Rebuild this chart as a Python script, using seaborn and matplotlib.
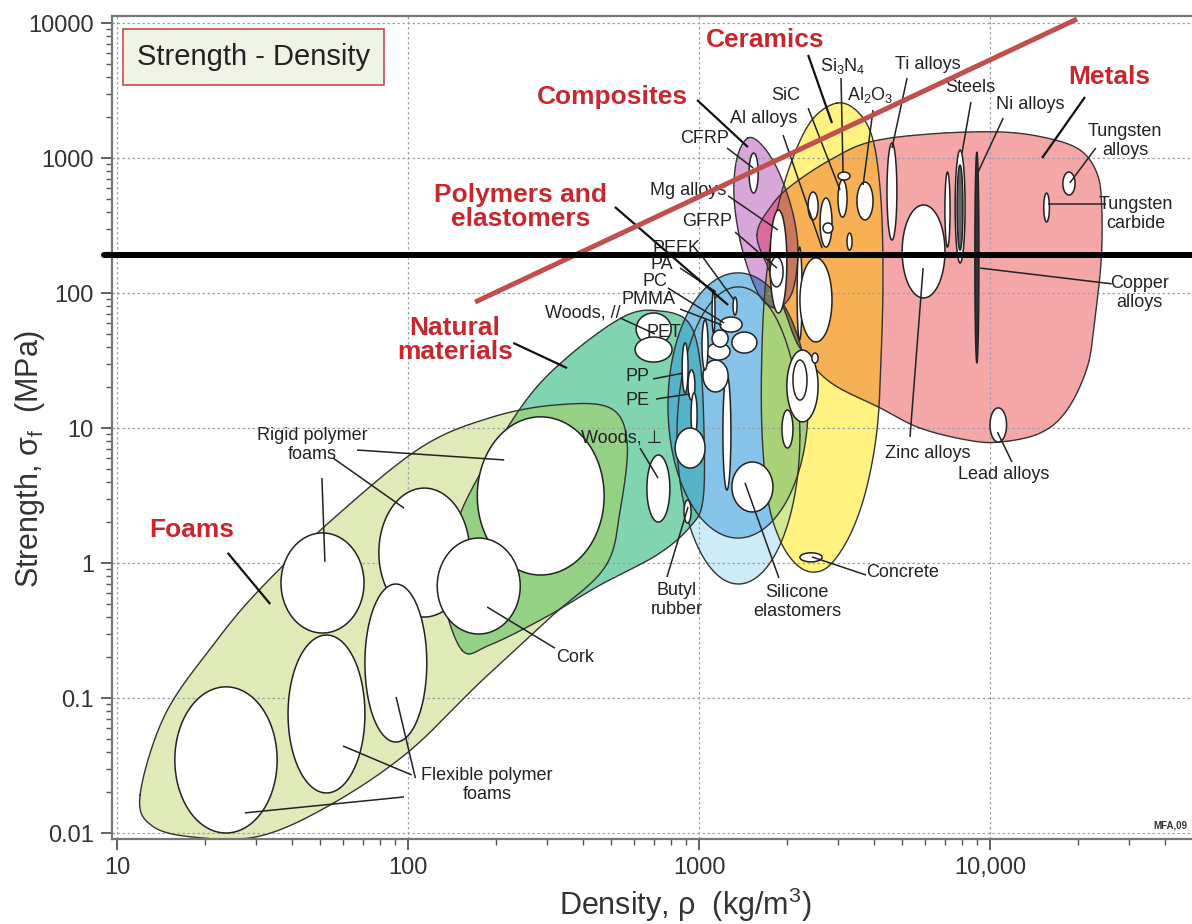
import numpy as np
import matplotlib
matplotlib.use("Agg")
import matplotlib.pyplot as plt
import seaborn as sns
from matplotlib.path import Path
from matplotlib.ticker import FixedLocator, FixedFormatter, NullFormatter, LogLocator

sns.set_theme(style="white")
plt.rcParams["font.family"] = ["Liberation Sans", "DejaVu Sans"]
plt.rcParams["mathtext.fontset"] = "custom"
plt.rcParams["mathtext.rm"] = "Liberation Sans"
plt.rcParams["mathtext.it"] = "Liberation Sans:italic"
plt.rcParams["mathtext.bf"] = "Liberation Sans:bold"

# ---------------- data ----------------
x_limits = [9.61, 50000]
y_limits = [0.00903, 11270]
xtick_vals = [10, 100, 1000, 10000]
xtick_text = ["10", "100", "1000", "10,000"]
ytick_vals = [0.01, 0.1, 1, 10, 100, 1000, 10000]
ytick_text = ["0.01", "0.1", "1", "10", "100", "1000", "10000"]

# family envelopes: boundary points (density kg/m3, strength MPa)
foams_rho = [12.0, 14.6, 21.4, 31.0, 55.2, 110, 191, 320, 494, 566, 536, 475, 307, 177, 99.3, 53.9, 31.0, 18.5, 13.2]
foams_sig = [0.0191, 0.0748, 0.247, 0.641, 2.12, 7.11, 11.9, 14.8, 14.1, 7.87, 2.47, 0.933, 0.392, 0.131, 0.0392, 0.0161, 0.0095, 0.0093, 0.0113]
natural_rho = [153, 132, 145, 170, 252, 360, 557, 735, 917, 1007, 1040, 1032, 931, 718, 457, 298, 191]
natural_sig = [0.227, 0.631, 1.75, 3.92, 15.6, 34.7, 67.6, 73.6, 61.0, 31.9, 9.67, 2.93, 1.85, 1.15, 0.687, 0.398, 0.247]
composites_rho = [1472, 1645, 1866, 2088, 2188, 2103, 1898, 1687, 1521, 1383, 1318, 1351]
composites_sig = [1406, 1247, 815, 412, 208, 105, 78.8, 84.3, 125, 247, 532, 1000]
ceramics_rho = [2979, 3516, 3963, 4220, 4287, 4220, 4090, 3750, 3302, 2818, 2443, 2136, 1898, 1726, 1645, 1645, 1698, 1839, 2088, 2443]
ceramics_sig = [2553, 2193, 1359, 489, 125, 31.9, 9.67, 3.47, 1.61, 0.966, 0.857, 1.0, 1.48, 2.93, 9.67, 37.8, 125, 378, 966, 1910]
metals_rho = [1581, 1782, 2088, 2818, 3870, 6220, 10820, 15700, 20400, 23300, 24200, 24100, 22900, 21600, 18400, 14900, 10820, 8340, 5740, 4190, 2818, 2222, 1977, 1754]
metals_sig = [269, 449, 631, 966, 1315, 1507, 1560, 1406, 1145, 774, 449, 175, 63.1, 28.3, 13.6, 9.19, 7.87, 8.15, 10.0, 14.1, 21.9, 39.2, 72.3, 143]
polymers_rho = [782, 2371]
polymers_sig = [1.53, 141]
elastomers_rho = [840, 2222]
elastomers_sig = [0.699, 111]

# material bubbles: density range and strength range
bub_rho_lo = [15.8, 38.7, 36.6, 79.4, 71.1, 173, 126,
              608, 603, 662,
              875, 917, 939, 828, 888, 1297, 1208, 1032, 1065, 1109, 1297, 1180, 1309, 1109, 1024,
              1486, 1754, 1754, 2173, 2222, 2371, 2606, 2668, 3004, 3004, 3226, 3490, 4426, 4990,
              7000, 7590, 7710, 8870, 17800, 15300, 10000, 2222, 2004, 2103, 2443, 1928]
bub_rho_hi = [35.5, 71.1, 70.6, 163, 116, 472, 243,
              802, 808, 794,
              917, 968, 985, 1049, 939, 1795, 1287, 1259, 1278, 1259, 1581, 1406, 1351, 1135, 1074,
              1597, 2004, 1945, 2260, 2864, 2566, 2864, 2886, 3302, 3226, 3357, 3963, 4786, 7000,
              7290, 8210, 8070, 9160, 19600, 16000, 11400, 2648, 2566, 2350, 2566, 2103]
bub_sig_lo = [0.0100, 0.0198, 0.303, 0.398, 0.0472, 0.815, 0.298,
              41.2, 30.8, 2.01,
              18.2, 16.1, 8.58, 5.05, 1.98, 2.39, 3.47, 18.5, 31.9, 39.8, 35.9, 51.4, 68.7, 50.6, 26.9,
              550, 71.1, 111, 44.9, 43.4, 348, 219, 278, 687, 365, 208, 348, 247, 91.9,
              219, 167, 208, 30.3, 532, 336, 7.87, 1.02, 11.1, 16.1, 30.3, 7.11]
bub_sig_hi = [0.121, 0.293, 1.67, 3.59, 0.699, 12.1, 1.53,
              71.1, 47.2, 6.31,
              42.7, 26.9, 18.2, 10.0, 2.93, 5.60, 24.7, 31.9, 42.7, 53.2, 51.4, 66.4, 93.3, 105, 63.1,
              1089, 412, 185, 219, 182, 560, 506, 330, 787, 687, 278, 663, 1291, 449,
              787, 1145, 887, 1107, 787, 550, 14.1, 1.19, 37.8, 31.9, 35.9, 13.6]
bub_face = ["white"] * 41 + ["#666666", "#333333"] + ["white"] * 8

# family labels (red)
fam_text = ["Ceramics", "Composites", "Metals", "Polymers and\nelastomers", "Natural\nmaterials", "Foams"]
fam_rho = [1687, 506, 25800, 243, 145, 18.1]
fam_sig = [7480, 2831, 3981, 434, 44.9, 1.75]
fam_lead_rho0 = [2371, 985, 21200, 514, 230, 24.0]
fam_lead_sig0 = [5800, 2690, 2831, 434, 42.7, 1.19]
fam_lead_rho1 = [2864, 1472, 15100, 1259, 352, 33.6]
fam_lead_sig1 = [1815, 1205, 1000, 81.5, 27.8, 0.497]

# material labels (black)
mat_text = ["CFRP", "Al alloys", "SiC", "Si$_3$N$_4$", "Al$_2$O$_3$", "Ti alloys", "Steels", "Ni alloys",
            "Tungsten\nalloys", "Tungsten\ncarbide", "Copper\nalloys", "Zinc alloys", "Lead alloys",
            "Concrete", "Silicone\nelastomers", "Butyl\nrubber", "Woods, \u22a5", "PE", "PP", "PET",
            "Woods, //", "PMMA", "PC", "PA", "PEEK", "GFRP", "Mg alloys",
            "Rigid polymer\nfoams", "Flexible polymer\nfoams", "Cork"]
mat_rho = [1049, 1672, 1991, 3126, 3870, 6120, 8530, 13700, 29100, 31800, 32700, 6120, 11100,
           5020, 2173, 840, 540, 617, 617, 759, 399, 668, 706, 746, 834, 1065, 917,
           46.8, 187, 375]
mat_sig = [1406, 1977, 2929, 4797, 2929, 4887, 3357, 2472, 1337, 384, 100, 6.53, 4.56,
           0.857, 0.514, 0.532, 8.43, 16.1, 23.9, 50.6, 71.1, 88.8, 121, 164, 215, 336, 579,
           7.48, 0.0227, 0.201]

# leader lines for material labels
lead_rho0 = [1248, 1945, 2371, 3076, 3963, 5190, 8600, 11100, 23100, 25100, 26200, 5310, 11900, 3750, 1882, 776,
             627, 711, 695, 536, 861, 782, 861, 1024, 1330, 1259, 50.6, 55.2, 66.8, 106, 103, 96.9, 320]
lead_sig0 = [1186, 1479, 2344, 3917, 2270, 3917, 2600, 1977, 1186, 456, 117, 8.58, 5.60, 0.815, 0.774, 0.787,
             7.11, 16.4, 23.1, 65.3, 76.0, 109, 153, 188, 283, 524, 4.26, 6.0, 6.87, 0.0255, 0.0269, 0.0185, 0.234]
lead_rho1 = [1535, 2648, 3053, 3126, 3664, 4603, 8010, 9100, 18800, 15800, 9250, 5890, 10600, 2443, 1439, 917,
             723, 931, 881, 706, 1199, 1219, 1143, 1318, 1853, 1866, 51.8, 96.9, 214, 91.0, 59.8, 27.5, 187]
lead_sig1 = [844, 215, 579, 787, 631, 1186, 1089, 787, 653, 456, 153, 153, 9.34, 1.11, 3.92, 2.60,
             4.26, 17.9, 25.5, 49.7, 57.9, 60.0, 102, 88.8, 153, 293, 1.02, 2.55, 5.80, 0.102, 0.0441, 0.0141, 0.472]

# guide lines
guide_rho = [170, 19900]
guide_sig = [85.7, 10700]
strength_limit = 191

# ---------------- helpers ----------------
def smooth_closed(rho, sig, n=30):
    P = np.column_stack([np.log10(rho), np.log10(sig)])
    N = len(P)
    t = np.linspace(0, 1, n, endpoint=False)[:, None]
    segs = []
    for i in range(N):
        p0, p1, p2, p3 = P[i - 1], P[i], P[(i + 1) % N], P[(i + 2) % N]
        segs.append(0.5 * (2 * p1 + (-p0 + p2) * t + (2 * p0 - 5 * p1 + 4 * p2 - p3) * t ** 2
                           + (-p0 + 3 * p1 - 3 * p2 + p3) * t ** 3))
    out = np.vstack(segs)
    return np.vstack([out, out[:1]])


def ellipse_log(rlo, rhi, slo, shi, n=120):
    cx = 0.5 * (np.log10(rlo) + np.log10(rhi))
    cy = 0.5 * (np.log10(slo) + np.log10(shi))
    ax_ = 0.5 * (np.log10(rhi) - np.log10(rlo))
    ay_ = 0.5 * (np.log10(shi) - np.log10(slo))
    th = np.linspace(0, 2 * np.pi, n)
    return np.column_stack([cx + ax_ * np.cos(th), cy + ay_ * np.sin(th)])


# ---------------- figure ----------------
fig = plt.figure(figsize=(11.92, 9.24), dpi=100)
ax = fig.add_axes([112 / 1192, 85 / 924, 1081.4 / 1192, 823 / 924])
ax.set_xscale("log")
ax.set_yscale("log")
ax.set_xlim(*x_limits)
ax.set_ylim(*y_limits)

env_order = ["foams", "natural", "elastomers", "polymers", "composites", "ceramics", "metals"]
env_shapes = {
    "foams": smooth_closed(foams_rho, foams_sig),
    "natural": smooth_closed(natural_rho, natural_sig),
    "elastomers": ellipse_log(elastomers_rho[0], elastomers_rho[1], elastomers_sig[0], elastomers_sig[1], 200),
    "polymers": ellipse_log(polymers_rho[0], polymers_rho[1], polymers_sig[0], polymers_sig[1], 200),
    "composites": smooth_closed(composites_rho, composites_sig),
    "ceramics": smooth_closed(ceramics_rho, ceramics_sig),
    "metals": smooth_closed(metals_rho, metals_sig),
}
env_colors = {
    "foams": (0.875, 0.918, 0.72),
    "natural": (0.50, 0.83, 0.69),
    "elastomers": (0.80, 0.92, 0.97),
    "polymers": (0.52, 0.77, 0.91),
    "composites": (0.85, 0.65, 0.85),
    "ceramics": (1.0, 0.95, 0.50),
    "metals": (0.96, 0.65, 0.65),
}
overlap_colors = {
    ("foams", "natural"): (0.58, 0.82, 0.52),
    ("natural", "polymers"): (0.33, 0.70, 0.78),
    ("polymers", "ceramics"): (0.66, 0.82, 0.47),
    ("elastomers", "ceramics"): (0.82, 0.91, 0.58),
    ("ceramics", "metals"): (0.97, 0.69, 0.33),
    ("composites", "metals"): (0.86, 0.42, 0.62),
    ("composites", "ceramics", "metals"): (0.78, 0.47, 0.37),
}

# raster of envelopes with multiply blending
nx, ny = 760, 580
lx_e = np.linspace(np.log10(x_limits[0]), np.log10(x_limits[1]), nx + 1)
ly_e = np.linspace(np.log10(y_limits[0]), np.log10(y_limits[1]), ny + 1)
lxc = 0.5 * (lx_e[1:] + lx_e[:-1])
lyc = 0.5 * (ly_e[1:] + ly_e[:-1])
GX, GY = np.meshgrid(lxc, lyc)
pts = np.column_stack([GX.ravel(), GY.ravel()])
masks = {k: Path(v).contains_points(pts).reshape(ny, nx) for k, v in env_shapes.items()}
masks["elastomers"] = masks["elastomers"] & ~masks["polymers"]
rgb = np.ones((ny, nx, 3))
code = np.zeros((ny, nx), int)
for b, k in enumerate(env_order):
    m = masks[k]
    rgb[m] *= np.array(env_colors[k])
    code[m] += 1 << b
for combo, col in overlap_colors.items():
    c = sum(1 << env_order.index(k) for k in combo)
    rgb[code == c] = col
rgba = np.dstack([rgb, (code > 0).astype(float)])
ax.pcolormesh(10 ** lx_e, 10 ** ly_e, rgba, shading="flat", zorder=1, antialiased=False,
              edgecolors="none", linewidth=0)

for k in env_order:
    v = env_shapes[k]
    ax.plot(10 ** v[:, 0], 10 ** v[:, 1], color="#333333", lw=1.0, zorder=2)

# bubbles
for i in range(len(bub_rho_lo)):
    e = ellipse_log(bub_rho_lo[i], bub_rho_hi[i], bub_sig_lo[i], bub_sig_hi[i])
    ax.fill(10 ** e[:, 0], 10 ** e[:, 1], facecolor=bub_face[i], edgecolor="#222222",
            lw=1.1, zorder=3)

# leader lines
for i in range(len(lead_rho0)):
    ax.plot([lead_rho0[i], lead_rho1[i]], [lead_sig0[i], lead_sig1[i]], color="#222222",
            lw=1.1, zorder=4, solid_capstyle="butt")
for i in range(len(fam_lead_rho0)):
    ax.plot([fam_lead_rho0[i], fam_lead_rho1[i]], [fam_lead_sig0[i], fam_lead_sig1[i]],
            color="#111111", lw=1.6, zorder=4, solid_capstyle="butt")

# labels
for t, r, s in zip(mat_text, mat_rho, mat_sig):
    ax.text(r, s, t, fontsize=13, color="#222222", ha="center", va="center", zorder=5,
            linespacing=1.15)
for t, r, s in zip(fam_text, fam_rho, fam_sig):
    ax.text(r, s, t, fontsize=19, color="#c8282d", fontweight="bold", ha="center",
            va="center", zorder=5, linespacing=1.0)

# guide lines
sns.lineplot(x=guide_rho, y=guide_sig, ax=ax, color="#c0504d", lw=3.6, zorder=7,
             legend=False, solid_capstyle="butt")
ax.axhline(strength_limit, xmin=-0.0075, xmax=1.0, color="black", lw=4.3, zorder=7,
           clip_on=False)

# title box
ax.text(11.7, 5598, "Strength - Density", fontsize=21, color="#222222", ha="left", va="center",
        zorder=8, bbox=dict(boxstyle="square,pad=0.48", fc="#eef3e6", ec="#c0504d", lw=1.2))
ax.text(36300, 0.0113, "MFA,09", fontsize=7, fontweight="bold", color="#333333",
        ha="left", va="center", zorder=8)

# axes styling
ax.xaxis.set_major_locator(FixedLocator(xtick_vals))
ax.xaxis.set_major_formatter(FixedFormatter(xtick_text))
ax.yaxis.set_major_locator(FixedLocator(ytick_vals))
ax.yaxis.set_major_formatter(FixedFormatter(ytick_text))
ax.xaxis.set_minor_locator(LogLocator(base=10, subs=np.arange(2, 10)))
ax.yaxis.set_minor_locator(LogLocator(base=10, subs=np.arange(2, 10)))
ax.xaxis.set_minor_formatter(NullFormatter())
ax.yaxis.set_minor_formatter(NullFormatter())
ax.tick_params(which="major", direction="out", length=8, width=1.3, color="#555555",
               labelsize=17, labelcolor="#333333", pad=5, left=True, bottom=True)
ax.tick_params(which="minor", direction="out", length=4.5, width=1.0, color="#555555",
               left=True, bottom=True)
ax.set_axisbelow("line")
ax.grid(True, which="major", color="#9aa3ad", linestyle=(0, (2, 2)), linewidth=0.9)
ax.grid(False, which="minor")
for side in ["left", "bottom", "top"]:
    ax.spines[side].set_visible(True)
    ax.spines[side].set_color("#777777")
    ax.spines[side].set_linewidth(1.6)
ax.spines["right"].set_visible(False)

ax.set_xlabel("Density, \u03c1  (kg/m$^3$)", fontsize=22, color="#333333")
ax.set_ylabel("Strength, \u03c3$_\\mathrm{f}$  (MPa)", fontsize=22, color="#333333")
ax.xaxis.set_label_coords(0.530, -0.057)
ax.yaxis.set_label_coords(-0.060, 0.462)

fig.savefig("out.png", dpi=100)
